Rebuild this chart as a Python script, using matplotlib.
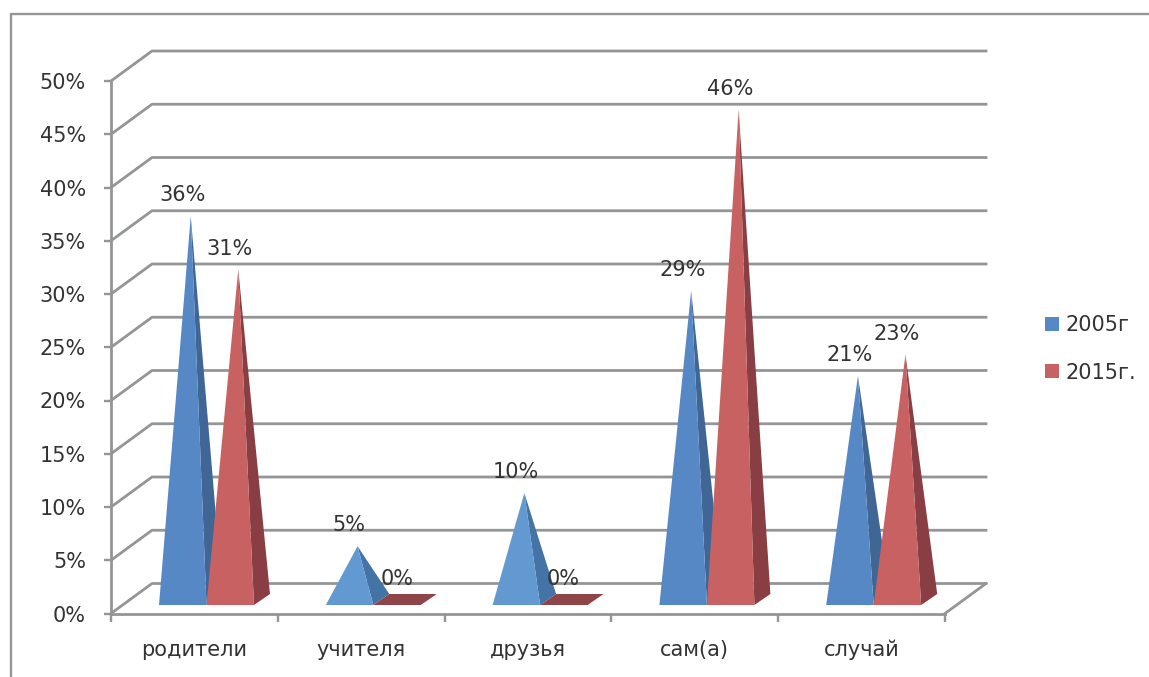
import matplotlib
matplotlib.use("Agg")
import matplotlib.pyplot as plt
from matplotlib.lines import Line2D
from matplotlib.patches import Patch, Polygon
import numpy as np

categories = ["родители", "учителя", "друзья", "сам(а)", "случай"]
years = ["2005г", "2015г."]
values_2005 = [36, 5, 10, 29, 21]
values_2015 = [31, 0, 0, 46, 23]
y_ticks = [0, 5, 10, 15, 20, 25, 30, 35, 40, 45, 50]

W, H = 1149, 677
grey = "#939597"
text_col = "#333333"
front = ["#5688c6", "#c86262"]
side = ["#3f6695", "#883e42"]
flat = "#8f4447"
light_front = "#6199d0"
light_side = "#4473a6"
font_size = 15

fig = plt.figure(figsize=(W / 100, H / 100), dpi=100, facecolor="white")
# axes box = front plane of the fake 3d chart
ax = fig.add_axes([111 / W, (H - 613.5) / H, (945 - 111) / W, (613.5 - 81) / H])
ax.set_xlim(0, 5)
ax.set_ylim(0, 50)
ax.patch.set_visible(False)

# pixel sizes turned into data units
px_x = 5 / (945 - 111)
px_y = 50 / (613.5 - 81)
wall_dx, wall_dy = 41 * px_x, 30 * px_y
base_dx, base_dy = 16 * px_x, 11 * px_y
bar_w = 47.5 * px_x
base_y = 8.5 * px_y
gap_left = 48 * px_x

# walls
for t in y_ticks:
    ax.plot([0, wall_dx, 5 + wall_dx], [t, t + wall_dy, t + wall_dy], color=grey,
            lw=2, clip_on=False, zorder=1, solid_joinstyle="round")
ax.plot([5, 5 + wall_dx], [0, wall_dy], color=grey, lw=2, clip_on=False, zorder=1)

# pyramids
for s, vals in enumerate([values_2005, values_2015]):
    for i, v in enumerate(vals):
        left = i + gap_left + s * bar_w
        right = left + bar_w
        tip_x = (left + right) / 2 + base_dx / 2
        tip_y = v + base_y + base_dy / 2
        if v == 0:
            ax.add_patch(Polygon([(left, base_y), (right, base_y),
                                  (right + base_dx, base_y + base_dy),
                                  (left + base_dx, base_y + base_dy)],
                                 fc=flat, ec="none", clip_on=False, zorder=3))
        else:
            fc, sc = front[s], side[s]
            if v < 15:
                fc, sc = light_front, light_side
            ax.add_patch(Polygon([(right, base_y), (right + base_dx, base_y + base_dy),
                                  (tip_x, tip_y)], fc=sc, ec="none", clip_on=False, zorder=3))
            ax.add_patch(Polygon([(left, base_y), (right, base_y), (tip_x, tip_y)],
                                 fc=fc, ec="none", clip_on=False, zorder=3))
        ax.annotate(f"{v}%", (tip_x, tip_y), xytext=(-6, 15), textcoords="offset points",
                    ha="center", va="center", fontsize=font_size, color=text_col, zorder=5)

# axes
for name in ["top", "right"]:
    ax.spines[name].set_visible(False)
for name in ["left", "bottom"]:
    ax.spines[name].set_color(grey)
    ax.spines[name].set_linewidth(2)
ax.set_yticks(y_ticks)
ax.set_yticklabels([f"{t}%" for t in y_ticks])
ax.set_xticks(np.arange(5) + 0.5)
ax.set_xticklabels(categories)
ax.set_xticks(np.arange(6), minor=True)
ax.tick_params(axis="y", length=5, width=1.7, color=grey, pad=13, labelsize=font_size, labelcolor=text_col)
ax.tick_params(axis="x", which="major", length=0, pad=19, labelsize=font_size, labelcolor=text_col)
ax.tick_params(axis="x", which="minor", length=6, width=1.7, color=grey)

# outer frame of the pasted chart
fig.add_artist(Line2D([11 / W, 11 / W, 1], [0, (H - 14) / H, (H - 14) / H], color=grey, lw=1.7))

handles = [Patch(fc=front[0], ec="none"), Patch(fc=front[1], ec="none")]
fig.legend(handles, years, loc="center left", bbox_to_anchor=(1026 / W, (H - 349) / H),
           frameon=False, fontsize=font_size, handlelength=0.68, handleheight=0.68,
           handletextpad=0.3, labelspacing=1.3, labelcolor=text_col)

fig.savefig("out.png", dpi=100)
